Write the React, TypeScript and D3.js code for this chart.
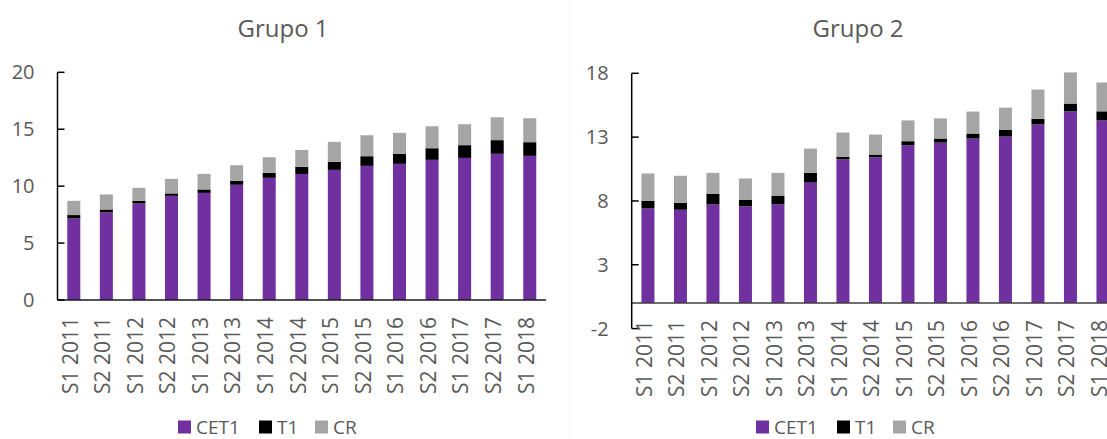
import React from "react";
import * as d3 from "d3";

const categories = [
  "S1 2011", "S2 2011", "S1 2012", "S2 2012", "S1 2013", "S2 2013", "S1 2014", "S2 2014",
  "S1 2015", "S2 2015", "S1 2016", "S2 2016", "S1 2017", "S2 2017", "S1 2018",
];
const seriesNames = ["CET1", "T1", "CR"];
const seriesColors = ["#7030A0", "#000000", "#A5A5A5"];

// Grupo 1
const g1CET1 = [7.17, 7.69, 8.48, 9.15, 9.41, 10.12, 10.73, 11.07, 11.43, 11.78, 11.96, 12.31, 12.48, 12.84, 12.66];
const g1T1 = [0.29, 0.26, 0.23, 0.21, 0.3, 0.35, 0.44, 0.63, 0.7, 0.85, 0.88, 1.02, 1.12, 1.2, 1.2];
const g1CR = [1.25, 1.32, 1.14, 1.28, 1.37, 1.37, 1.37, 1.48, 1.76, 1.84, 1.84, 1.93, 1.84, 2.01, 2.1];
const g1Ticks = [0, 5, 10, 15, 20];

// Grupo 2
const g2CET1 = [7.42, 7.31, 7.73, 7.58, 7.73, 9.44, 11.26, 11.42, 12.36, 12.57, 12.89, 13.05, 13.99, 15.02, 14.31];
const g2T1 = [0.58, 0.55, 0.84, 0.52, 0.69, 0.76, 0.21, 0.21, 0.32, 0.32, 0.39, 0.53, 0.45, 0.61, 0.71];
const g2CR = [2.15, 2.11, 1.63, 1.66, 1.78, 1.9, 1.89, 1.57, 1.63, 1.58, 1.72, 1.73, 2.29, 2.44, 2.26];
const g2Ticks = [-2, 3, 8, 13, 18];

const FONT = "'Open Sans', 'Noto Sans', sans-serif";
const TEXT = "#595959";

type PanelProps = {
  title: string;
  titleX: number;
  cet1: number[];
  t1: number[];
  cr: number[];
  domain: [number, number];
  yRange: [number, number];
  ticks: number[];
  left: number;
  step: number;
  legendX: number;
  zeroColor: string;
};

function Panel(p: PanelProps) {
  const rows = categories.map((c, i) => ({ cat: c, CET1: p.cet1[i], T1: p.t1[i], CR: p.cr[i] }));
  const stack = d3.stack<any>().keys(seriesNames)(rows);
  const x = d3
    .scaleBand<string>()
    .domain(categories)
    .range([p.left, p.left + p.step * categories.length])
    .paddingInner(0.6)
    .paddingOuter(0.3);
  const y = d3.scaleLinear().domain(p.domain).range(p.yRange);
  const y0 = y(0);
  const yTop = y(p.domain[1]);
  const yBot = y(p.domain[0]);
  const xEnd = p.left + p.step * categories.length;
  const legendOffsets = [0, 81, 137];
  return (
    <g>
      <text x={p.titleX} y={37} textAnchor="middle" fontSize={24} fill={TEXT} fontFamily={FONT}>
        {p.title}
      </text>
      {stack.map((s, si) => (
        <g key={si} fill={seriesColors[si]}>
          {s.map((d, i) => (
            <rect
              key={i}
              x={x(categories[i])}
              width={x.bandwidth()}
              y={y(d[1])}
              height={Math.max(0, y(d[0]) - y(d[1]))}
            />
          ))}
        </g>
      ))}
      <line x1={p.left} x2={xEnd} y1={y0} y2={y0} stroke={p.zeroColor} strokeWidth={1.5} />
      <line x1={p.left} x2={p.left} y1={yTop} y2={yBot} stroke="#000" strokeWidth={1.5} />
      {p.ticks.map((t) => (
        <g key={t}>
          <line x1={p.left} x2={p.left + 7} y1={y(t)} y2={y(t)} stroke="#000" strokeWidth={1.5} />
          <text
            x={p.left - 23}
            y={y(t)}
            dy="0.35em"
            textAnchor="end"
            fontSize={20}
            fill={TEXT}
            fontFamily={FONT}
          >
            {t}
          </text>
        </g>
      ))}
      {categories.map((c) => {
        const cx = (x(c) as number) + x.bandwidth() / 2 - 3.5;
        return (
          <text
            key={c}
            transform={`translate(${cx},${y0 + 17}) rotate(-90)`}
            dy="0.35em"
            textAnchor="end"
            fontSize={21}
            fill={TEXT}
            fontFamily={FONT}
          >
            {c}
          </text>
        );
      })}
      {seriesNames.map((n, i) => (
        <g key={n}>
          <rect x={p.legendX + legendOffsets[i]} y={420.5} width={13} height={13} fill={seriesColors[i]} />
          <text
            x={p.legendX + legendOffsets[i] + 18}
            y={433.5}
            fontSize={19}
            fill={TEXT}
            fontFamily={FONT}
          >
            {n}
          </text>
        </g>
      ))}
    </g>
  );
}

export default function App() {
  return (
    <svg
      width={1107}
      height={439}
      style={{ position: "absolute", left: 0, top: 0, background: "#fff" }}
    >
      <rect x={0} y={0} width={1107} height={439} fill="#fff" />
      <line x1={570} x2={570} y1={0} y2={439} stroke="#f3f3f3" strokeWidth={1} />
      <Panel
        title="Grupo 1"
        titleX={283}
        cet1={g1CET1}
        t1={g1T1}
        cr={g1CR}
        domain={[0, 20]}
        yRange={[300, 72.3]}
        ticks={g1Ticks}
        left={57.5}
        step={32.57}
        legendX={178}
        zeroColor="#1a1a1a"
      />
      <Panel
        title="Grupo 2"
        titleX={858}
        cet1={g2CET1}
        t1={g2T1}
        cr={g2CR}
        domain={[-2, 18]}
        yRange={[328.6, 73.3]}
        ticks={g2Ticks}
        left={631.7}
        step={32.5}
        legendX={756}
        zeroColor="#404040"
      />
    </svg>
  );
}
